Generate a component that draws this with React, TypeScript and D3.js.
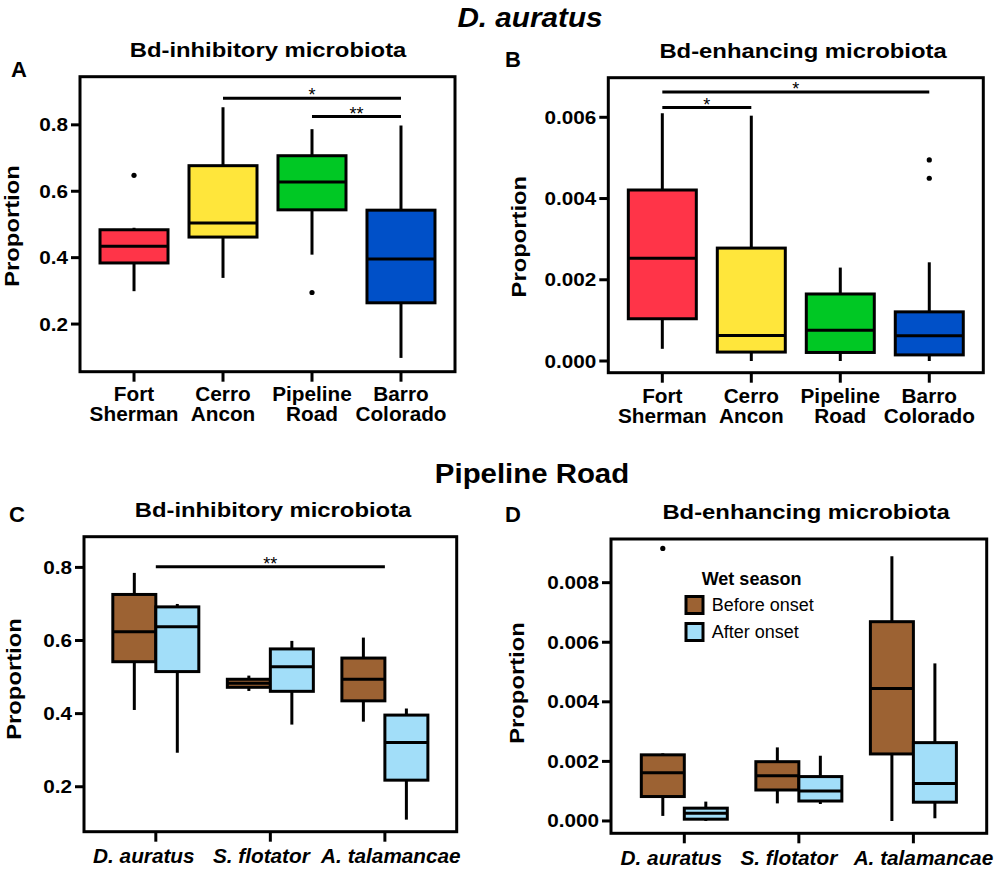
import * as d3 from "d3"

const FONT = "'Liberation Sans', Arial, Helvetica, sans-serif"

// --- data -----------------------------------------------------------------
const SITES = ["Fort Sherman", "Cerro Ancon", "Pipeline Road", "Barro Colorado"]
const SITE_COLORS = ["#FF3448", "#FFE63B", "#00C824", "#0050C8"]

// each box: [whiskerLow, q1, median, q3, whiskerHigh]
const inhibSite = [
  [0.299, 0.384, 0.434, 0.484, 0.49],
  [0.339, 0.462, 0.504, 0.677, 0.853],
  [0.409, 0.544, 0.628, 0.707, 0.787],
  [0.098, 0.264, 0.396, 0.543, 0.798],
]
const inhibSiteOutliers = [[0.648], [], [0.295], []]

const enhSite = [
  [0.0003, 0.00104, 0.00253, 0.00421, 0.0061],
  [0.0, 0.00022, 0.00063, 0.00278, 0.00604],
  [0.0, 0.00021, 0.00076, 0.00165, 0.0023],
  [0.0, 0.00015, 0.00062, 0.00121, 0.00243],
]
const enhSiteOutliers = [[], [], [], [0.0045, 0.00495]]

const SPECIES = ["D. auratus", "S. flotator", "A. talamancae"]
const SEASONS = ["Before onset", "After onset"]
const SEASON_COLORS = ["#9C6233", "#A2DEF9"]

const inhibBefore = [
  [0.41, 0.542, 0.624, 0.726, 0.785],
  [0.462, 0.472, 0.483, 0.494, 0.504],
  [0.378, 0.435, 0.494, 0.552, 0.608],
]
const inhibAfter = [
  [0.293, 0.515, 0.638, 0.692, 0.7],
  [0.37, 0.461, 0.528, 0.577, 0.599],
  [0.11, 0.218, 0.321, 0.396, 0.414],
]
const enhBefore = [
  [0.00017, 0.00082, 0.00162, 0.00222, 0.00227],
  [0.00059, 0.00104, 0.00152, 0.00199, 0.00247],
  [0.0, 0.00225, 0.00445, 0.00669, 0.00889],
]
const enhBeforeOutliers = [[0.00915], [], []]
const enhAfter = [
  [0.0, 0.00006, 0.00026, 0.00043, 0.00065],
  [0.00057, 0.00067, 0.00101, 0.00149, 0.00219],
  [0.00009, 0.00063, 0.00126, 0.00263, 0.00529],
]

const TICKS_INHIB = [0.2, 0.4, 0.6, 0.8]
const TICKS_ENH_SITE = [0, 0.002, 0.004, 0.006]
const TICKS_ENH_SPECIES = [0, 0.002, 0.004, 0.006, 0.008]

// significance bars: [fromIdx, toIdx, yValue, label]
const sigA: [number, number, number, string][] = [[1, 3, 0.88, "*"], [2, 3, 0.825, "**"]]
const sigB: [number, number, number, string][] = [[0, 1, 0.00624, "*"], [0, 3, 0.00662, "*"]]
const sigC: [number, number, number, string][] = [[0, 2, 0.802, "**"]]

// --- drawing ---------------------------------------------------------------
// text with a horizontal stretch (the original figure uses a wider face)
function T(props: {
  x: number; y: number; size: number; sx?: number; rot?: number
  bold?: boolean; italic?: boolean; anchor?: string; children: string
}) {
  const { x, y, size, sx = 1, rot = 0, bold, italic, anchor = "start" } = props
  return (
    <text transform={`translate(${x},${y}) rotate(${rot}) scale(${sx},1)`} fontFamily={FONT}
      fontSize={size} fontWeight={bold ? "bold" : "normal"} fontStyle={italic ? "italic" : "normal"}
      textAnchor={anchor}>{props.children}</text>
  )
}

interface Series {
  boxes: number[][]
  outliers?: number[][]
  color: (i: number) => string
  offset: number
}

interface PanelProps {
  letter: string
  title: string
  frame: { x0: number; x1: number; y0: number; y1: number }
  letterPos: [number, number]
  titleY: number
  titleX: number
  yLabelX: number
  yLabelY: number
  cats: string[]
  padding: number
  domain: [number, number]
  ticks: number[]
  fmt: string
  boxW: number
  series: Series[]
  sig?: [number, number, number, string][]
  italicCats?: boolean
  catDx?: number[]
  catY: number
}

function Panel(p: PanelProps) {
  const { x0, x1, y0, y1 } = p.frame
  const x = d3.scalePoint<number>().domain(p.cats.map((_, i) => i)).range([x0, x1]).padding(p.padding)
  const y = d3.scaleLinear().domain(p.domain).range([y1, y0])
  const f = d3.format(p.fmt)
  const sw = 3

  return (
    <g>
      <T x={p.letterPos[0]} y={p.letterPos[1]} size={22} bold>{p.letter}</T>
      <T x={p.titleX} y={p.titleY} size={21} sx={1.135} bold anchor="middle">{p.title}</T>
      <T x={p.yLabelX} y={p.yLabelY} size={20} sx={1.19} rot={-90} bold anchor="middle">Proportion</T>

      {/* y ticks */}
      {p.ticks.map((t) => (
        <g key={t}>
          <line x1={x0 - 9} x2={x0} y1={y(t)} y2={y(t)} stroke="#000" strokeWidth={sw} />
          <T x={x0 - 12} y={y(t) + 6.5} size={18} sx={1.15} bold anchor="end">{f(t)}</T>
        </g>
      ))}

      {/* x ticks + labels */}
      {p.cats.map((c, i) => (
        <g key={c}>
          <line x1={x(i)!} x2={x(i)!} y1={y1} y2={y1 + 10} stroke="#000" strokeWidth={sw} />
          {p.italicCats ? (
            <T x={x(i)! + (p.catDx?.[i] ?? 0)} y={p.catY} size={19.5} sx={1.065} bold italic anchor="middle">{c}</T>
          ) : (
            c.split(" ").map((w, k) => (
              <T key={k} x={x(i)!} y={p.catY + k * 20.5} size={19.5} sx={1.065} bold anchor="middle">{w}</T>
            ))
          )}
        </g>
      ))}

      {/* boxes */}
      {p.series.map((s, si) => (
        <g key={si}>
          {s.boxes.map((b, i) => {
            const cx = x(i)! + s.offset
            const [lo, q1, med, q3, hi] = b
            return (
              <g key={i}>
                <line x1={cx} x2={cx} y1={y(lo)} y2={y(hi)} stroke="#000" strokeWidth={sw} />
                <rect x={cx - p.boxW / 2} y={y(q3)} width={p.boxW} height={y(q1) - y(q3)}
                  fill={s.color(i)} stroke="#000" strokeWidth={sw} />
                <line x1={cx - p.boxW / 2} x2={cx + p.boxW / 2} y1={y(med)} y2={y(med)} stroke="#000" strokeWidth={sw} />
                {(s.outliers?.[i] ?? []).map((o, k) => (
                  <circle key={k} cx={cx} cy={y(o)} r={2.6} fill="#000" />
                ))}
              </g>
            )
          })}
        </g>
      ))}

      {/* significance */}
      {(p.sig ?? []).map(([a, b, v, lab], k) => (
        <g key={k}>
          <line x1={x(a)!} x2={x(b)!} y1={y(v)} y2={y(v)} stroke="#000" strokeWidth={sw} />
          <T x={(x(a)! + x(b)!) / 2} y={y(v) + 3} size={18} anchor="middle">{lab}</T>
        </g>
      ))}

      <rect x={x0} y={y0} width={x1 - x0} height={y1 - y0} fill="none" stroke="#000" strokeWidth={sw} />
    </g>
  )
}

export default function App() {
  return (
    <>
      <style>{`body{margin:0}`}</style>
      <svg width={1000} height={872} style={{ display: "block", background: "#fff" }}>
        <T x={530} y={27} size={28} sx={1.06} bold italic anchor="middle">D. auratus</T>
        <T x={532} y={483} size={28} sx={1.05} bold anchor="middle">Pipeline Road</T>

        <Panel letter="A" title="Bd-inhibitory microbiota"
          frame={{ x0: 80, x1: 455, y0: 76.7, y1: 371.7 }} letterPos={[11, 77]}
          titleX={268} titleY={56.5} yLabelX={19} yLabelY={226}
          cats={SITES} padding={0.607} domain={[0.0565, 0.945]} ticks={TICKS_INHIB} fmt=".1f"
          boxW={68} catY={400.7}
          series={[{ boxes: inhibSite, outliers: inhibSiteOutliers, color: (i) => SITE_COLORS[i], offset: 0 }]}
          sig={sigA} />

        <Panel letter="B" title="Bd-enhancing microbiota"
          frame={{ x0: 608.3, x1: 983.3, y0: 77.7, y1: 372.7 }} letterPos={[505, 67]}
          titleX={803} titleY={57.5} yLabelX={526} yLabelY={236.7}
          cats={SITES} padding={0.607} domain={[-0.000288, 0.006975]} ticks={TICKS_ENH_SITE} fmt=".3f"
          boxW={68} catY={402.7}
          series={[{ boxes: enhSite, outliers: enhSiteOutliers, color: (i) => SITE_COLORS[i], offset: 0 }]}
          sig={sigB} />

        <Panel letter="C" title="Bd-inhibitory microbiota"
          frame={{ x0: 84, x1: 456.7, y0: 536.7, y1: 831.7 }} letterPos={[9, 522]}
          titleX={273} titleY={516.5} yLabelX={21} yLabelY={679}
          cats={SPECIES} padding={0.627} domain={[0.077, 0.884]} ticks={TICKS_INHIB} fmt=".1f"
          boxW={43} catY={863} italicCats catDx={[-12, -9, 6]}
          series={[
            { boxes: inhibBefore, color: () => SEASON_COLORS[0], offset: -21.5 },
            { boxes: inhibAfter, color: () => SEASON_COLORS[1], offset: 21.5 },
          ]}
          sig={sigC} />

        <Panel letter="D" title="Bd-enhancing microbiota"
          frame={{ x0: 611, x1: 986.7, y0: 539, y1: 833.3 }} letterPos={[505, 522]}
          titleX={806} titleY={519} yLabelX={524} yLabelY={683}
          cats={SPECIES} padding={0.64} domain={[-0.000414, 0.009466]} ticks={TICKS_ENH_SPECIES} fmt=".3f"
          boxW={43} catY={864.5} italicCats catDx={[-13, -10, 10]}
          series={[
            { boxes: enhBefore, outliers: enhBeforeOutliers, color: () => SEASON_COLORS[0], offset: -21.5 },
            { boxes: enhAfter, color: () => SEASON_COLORS[1], offset: 21.5 },
          ]} />

        {/* legend for D */}
        <g>
          <T x={701.7} y={585} size={18} bold>Wet season</T>
          {SEASONS.map((s, i) => (
            <g key={s}>
              <rect x={686} y={596.5 + i * 27} width={17} height={17} fill={SEASON_COLORS[i]} stroke="#000" strokeWidth={3} />
              <T x={711.7} y={611 + i * 27} size={18}>{s}</T>
            </g>
          ))}
        </g>
      </svg>
    </>
  )
}
